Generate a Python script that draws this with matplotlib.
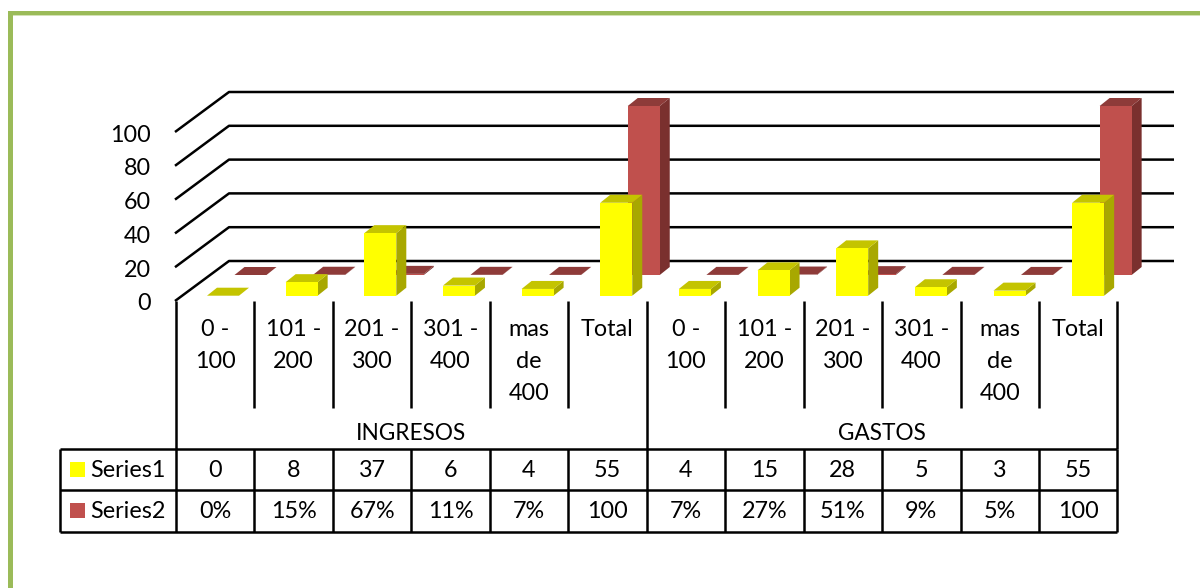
import matplotlib
matplotlib.use("Agg")
from matplotlib import pyplot as plt
from matplotlib.patches import Polygon, Rectangle

plt.rcParams['font.family'] = ['Lato', 'DejaVu Sans']

categories = ["0 -\n100", "101 -\n200", "201 -\n300", "301 -\n400", "mas\nde\n400", "Total"] * 2
groups = ["INGRESOS", "GASTOS"]
series1 = [0, 8, 37, 6, 4, 55, 4, 15, 28, 5, 3, 55]
# the percent row is plotted as fractions, only Total is really tall
series2 = [0, 0.15, 0.67, 0.11, 0.07, 100, 0.07, 0.27, 0.51, 0.09, 0.05, 100]
series1_labels = ["0", "8", "37", "6", "4", "55", "4", "15", "28", "5", "3", "55"]
series2_labels = ["0%", "15%", "67%", "11%", "7%", "100", "7%", "27%", "51%", "9%", "5%", "100"]
y_ticks = [0, 20, 40, 60, 80, 100]

# layout in image pixels
front_x, back_x = 175, 229
front_y, back_y = 301, 261
right_x = 1174
unit = 1.69
col0, col_w = 176, 78.45
bar0, bar_step = 223, 78.65
bar_w = 32
fs = 16.8

fig = plt.figure(figsize=(12, 5.88), dpi=100)
ax = fig.add_axes([0, 0, 1, 1])
ax.set_xlim(0, 1200)
ax.set_ylim(588, 0)
ax.axis("off")


def line(xs, ys, lw=1.8, c="black", z=1):
    ax.plot(xs, ys, color=c, lw=lw, solid_capstyle="butt", zorder=z)


def bar3d(cx, base, value, face, top, side, z):
    h = value * unit
    l, r = cx - bar_w / 2, cx + bar_w / 2
    t = base - h
    dx, dy = 10, 8
    ax.add_patch(Polygon([(r, base), (r + dx, base - dy), (r + dx, t - dy), (r, t)], fc=side, ec="none", zorder=z))
    ax.add_patch(Polygon([(l, t), (l + dx, t - dy), (r + dx, t - dy), (r, t)], fc=top, ec="none", zorder=z))
    ax.add_patch(Rectangle((l, t), bar_w, h, fc=face, ec="none", zorder=z))


# page border
ax.add_patch(Rectangle((7.5, 11), 1192.5, 4, fc="#9BBB59", ec="none"))
ax.add_patch(Rectangle((7.5, 15), 1192.5, 1, fc="#D4E2B6", ec="none"))
ax.add_patch(Rectangle((7.5, 11), 5, 577, fc="#9BBB59", ec="none"))

# gridlines
for v in y_ticks:
    d = v * unit
    line([front_x, back_x, right_x], [front_y - d, back_y - d, back_y - d])
    ax.text(151, front_y - d + 3, str(v), ha="right", va="center", fontsize=fs, color="black")

# bars, back series first
for i, v in enumerate(series2):
    bar3d(bar0 + bar_step * i + 27.5, 275, v, "#C0504D", "#8E3B39", "#7A302E", 3 + i * 0.01)
for i, v in enumerate(series1):
    bar3d(bar0 + bar_step * i, 295.7, v, "#FFFF00", "#C4C400", "#A8A800", 4 + i * 0.01)

# category labels and separators
n = len(categories)
for i in range(n + 1):
    x = col0 + col_w * i
    if i % 6 == 0:
        line([x, x], [301, 449], z=5)
    else:
        line([x, x], [301, 408], z=5)
for i, c in enumerate(categories):
    x = col0 + col_w * (i + 0.5)
    for j, part in enumerate(c.split("\n")):
        ax.text(x, 329 + j * 32.5, part, ha="center", va="center", fontsize=fs, zorder=6)
for g, name in enumerate(groups):
    ax.text(col0 + col_w * (6 * g + 3), 434, name, ha="center", va="center", fontsize=fs * 0.97, zorder=6)

# data table
table_right = col0 + col_w * n
for y in [449, 490, 532]:
    line([60, table_right], [y, y], z=5)
line([60, 60], [449, 532], z=5)
for i in range(n + 1):
    x = col0 + col_w * i
    line([x, x], [449, 532], z=5)
for i in range(n):
    x = col0 + col_w * (i + 0.5)
    ax.text(x, 470.5, series1_labels[i], ha="center", va="center", fontsize=fs, zorder=6)
    ax.text(x, 511.5, series2_labels[i], ha="center", va="center", fontsize=fs, zorder=6)

ax.add_patch(Rectangle((70, 462), 15, 15, fc="#FFFF00", ec="none"))
ax.add_patch(Rectangle((70, 503), 15, 15, fc="#C0504D", ec="none"))
ax.text(90, 470.5, "Series1", ha="left", va="center", fontsize=fs)
ax.text(90, 511.5, "Series2", ha="left", va="center", fontsize=fs)

fig.savefig("out.png", dpi=100)
